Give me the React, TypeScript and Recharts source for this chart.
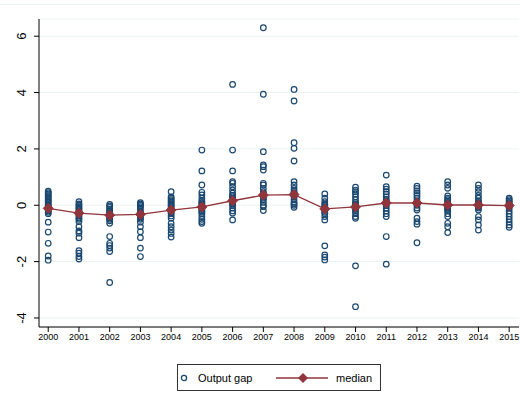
import React from "react";
import {
  CartesianGrid,
  ComposedChart,
  Line,
  Scatter,
  XAxis,
  YAxis,
} from "recharts";

const YEARS = [
  2000, 2001, 2002, 2003, 2004, 2005, 2006, 2007, 2008, 2009, 2010, 2011, 2012,
  2013, 2014, 2015,
];

const Y_TICKS = [-4, -2, 0, 2, 4, 6];

// output gap per country, one list per year
const GAP_2000 = [0.5, 0.45, 0.4, 0.35, 0.3, 0.25, 0.2, 0.15, 0.1, 0.05, 0, -0.05, -0.08, -0.1, -0.15, -0.2, -0.25, -0.3, -0.6, -0.95, -1.35, -1.8, -1.95];
const GAP_2001 = [0.13, 0.05, 0, -0.05, -0.1, -0.15, -0.2, -0.25, -0.28, -0.32, -0.38, -0.45, -0.5, -0.58, -0.76, -0.91, -0.99, -1.15, -1.61, -1.7, -1.82, -1.91];
const GAP_2002 = [0.03, -0.02, -0.08, -0.15, -0.2, -0.25, -0.3, -0.35, -0.4, -0.45, -0.5, -0.55, -0.64, -1.11, -1.35, -1.43, -1.52, -1.64, -2.74];
const GAP_2003 = [0.09, 0.05, 0, -0.05, -0.1, -0.2, -0.25, -0.3, -0.33, -0.38, -0.45, -0.5, -0.6, -0.76, -0.94, -1.15, -1.52, -1.82];
const GAP_2004 = [0.48, 0.3, 0.25, 0.2, 0.15, 0.1, 0.05, 0, -0.05, -0.1, -0.15, -0.17, -0.2, -0.25, -0.3, -0.38, -0.46, -0.64, -0.76, -0.88, -1.0, -1.13];
const GAP_2005 = [1.96, 1.22, 0.72, 0.46, 0.37, 0.25, 0.15, 0.1, 0.05, 0, -0.05, -0.06, -0.1, -0.15, -0.2, -0.25, -0.3, -0.4, -0.5, -0.58, -0.64];
const GAP_2006 = [4.29, 1.96, 1.22, 0.84, 0.78, 0.66, 0.54, 0.43, 0.35, 0.3, 0.25, 0.2, 0.16, 0.1, 0.05, 0, -0.1, -0.2, -0.28, -0.52];
const GAP_2007 = [6.3, 3.94, 1.9, 1.43, 1.37, 1.25, 0.78, 0.72, 0.6, 0.48, 0.4, 0.36, 0.3, 0.25, 0.2, 0.1, 0, -0.05, -0.19];
const GAP_2008 = [4.11, 3.7, 2.22, 2.02, 1.57, 0.84, 0.72, 0.6, 0.5, 0.45, 0.4, 0.38, 0.35, 0.3, 0.2, 0.1, 0.05, 0, -0.07];
const GAP_2009 = [0.4, 0.25, 0.13, 0.05, 0, -0.05, -0.1, -0.13, -0.18, -0.25, -0.3, -0.4, -0.52, -1.44, -1.76, -1.84, -1.94];
const GAP_2010 = [0.64, 0.54, 0.48, 0.4, 0.3, 0.2, 0.1, 0.05, 0, -0.06, -0.1, -0.15, -0.2, -0.3, -0.4, -0.46, -2.15, -3.6];
const GAP_2011 = [1.07, 0.66, 0.57, 0.48, 0.4, 0.3, 0.2, 0.15, 0.1, 0.08, 0.05, 0, -0.1, -0.2, -0.3, -0.4, -1.11, -2.09];
const GAP_2012 = [0.68, 0.6, 0.51, 0.43, 0.35, 0.25, 0.15, 0.1, 0.08, 0.05, 0, -0.1, -0.17, -0.46, -0.58, -0.67, -1.33];
const GAP_2013 = [0.84, 0.72, 0.6, 0.33, 0.25, 0.2, 0.15, 0.1, 0.05, 0.01, -0.05, -0.1, -0.15, -0.2, -0.3, -0.4, -0.64, -0.76, -0.97];
const GAP_2014 = [0.72, 0.6, 0.48, 0.35, 0.25, 0.15, 0.1, 0.05, 0.01, -0.05, -0.1, -0.17, -0.4, -0.52, -0.7, -0.88];
const GAP_2015 = [0.25, 0.2, 0.15, 0.1, 0.05, 0, -0.02, -0.05, -0.1, -0.2, -0.3, -0.4, -0.5, -0.6, -0.7, -0.78];

const MEDIAN = [-0.11, -0.28, -0.35, -0.32, -0.17, -0.06, 0.16, 0.36, 0.38, -0.13, -0.06, 0.08, 0.08, 0.01, 0.01, -0.01];

const GAPS = [
  GAP_2000, GAP_2001, GAP_2002, GAP_2003, GAP_2004, GAP_2005, GAP_2006, GAP_2007,
  GAP_2008, GAP_2009, GAP_2010, GAP_2011, GAP_2012, GAP_2013, GAP_2014, GAP_2015,
];

const NAVY = "#1a476f";
const MAROON = "#90353b";
const GRID = "#eaf2f3";
const FONT = '"Liberation Sans", Arial, sans-serif';

const points = YEARS.flatMap((yr, i) => GAPS[i].map((v) => ({ x: yr, y: v })));
const medianData = YEARS.map((yr, i) => ({ x: yr, y: MEDIAN[i] }));

const YTick = ({ y, payload }: any) => (
  <text
    x={22}
    y={y}
    transform={`rotate(-90, 22, ${y})`}
    textAnchor="middle"
    dominantBaseline="central"
    fontSize={13}
    fontFamily={FONT}
    fill="#000"
  >
    {payload.value}
  </text>
);

const Ring = (p: any) => (
  <circle cx={p.cx} cy={p.cy} r={2.8} fill="none" stroke={NAVY} strokeWidth={1.2} />
);

const Diamond = (p: any) => {
  const { cx, cy } = p;
  if (cx == null || cy == null) return null;
  return (
    <path
      key={`d-${p.index}`}
      d={`M${cx},${cy - 5}L${cx + 5},${cy}L${cx},${cy + 5}L${cx - 5},${cy}Z`}
      fill={MAROON}
      stroke={MAROON}
    />
  );
};

function LegendBox() {
  return (
    <div
      style={{
        position: "absolute",
        left: 177,
        top: 364,
        width: 202,
        height: 25,
        border: "1px solid #333",
        background: "#fff",
        fontFamily: FONT,
        fontSize: 11,
      }}
    >
      <svg width={202} height={25} style={{ position: "absolute", left: 0, top: 0 }}>
        <circle cx={6} cy={13} r={2.6} fill="none" stroke={NAVY} strokeWidth={1.3} />
        <text x={20} y={13} dominantBaseline="central" fontSize={11} fontFamily={FONT}>
          Output gap
        </text>
        <line x1={98} x2={150} y1={13} y2={13} stroke={MAROON} strokeWidth={1.3} />
        <path d="M125,8L130,13L125,18L120,13Z" fill={MAROON} />
        <text x={158} y={13} dominantBaseline="central" fontSize={11} fontFamily={FONT}>
          median
        </text>
      </svg>
    </div>
  );
}

export default function App() {
  return (
    <div
      style={{
        position: "absolute",
        left: 0,
        top: 0,
        width: 520,
        height: 404,
        background: "#fff",
      }}
    >
      <div
        style={{
          position: "absolute",
          left: 0,
          top: 4,
          width: 520,
          height: 0,
          borderTop: `1px solid ${GRID}`,
        }}
      />
      <ComposedChart
        width={520}
        height={404}
        margin={{ top: 19, right: 1, left: 0, bottom: 52 }}
      >
        <CartesianGrid vertical={false} stroke={GRID} strokeWidth={1} />
        <XAxis
          dataKey="x"
          type="number"
          domain={[1999.7, 2015.32]}
          ticks={YEARS}
          allowDataOverflow
          height={25}
          stroke="#000"
          tickSize={5}
          tickLine={{ stroke: "#000" }}
          tick={{ fontSize: 9, fill: "#000", fontFamily: FONT }}
          interval={0}
        />
        <YAxis
          type="number"
          domain={[-4.32, 6.61]}
          ticks={Y_TICKS}
          allowDataOverflow
          width={39}
          stroke="#000"
          tickSize={5}
          tickLine={{ stroke: "#000" }}
          tick={<YTick />}
        />
        <Scatter
          data={points}
          dataKey="y"
          shape={Ring}
          isAnimationActive={false}
        />
        <Line
          data={medianData}
          dataKey="y"
          type="linear"
          stroke={MAROON}
          strokeWidth={1.3}
          dot={Diamond}
          activeDot={false}
          isAnimationActive={false}
        />
      </ComposedChart>
      <LegendBox />
    </div>
  );
}
